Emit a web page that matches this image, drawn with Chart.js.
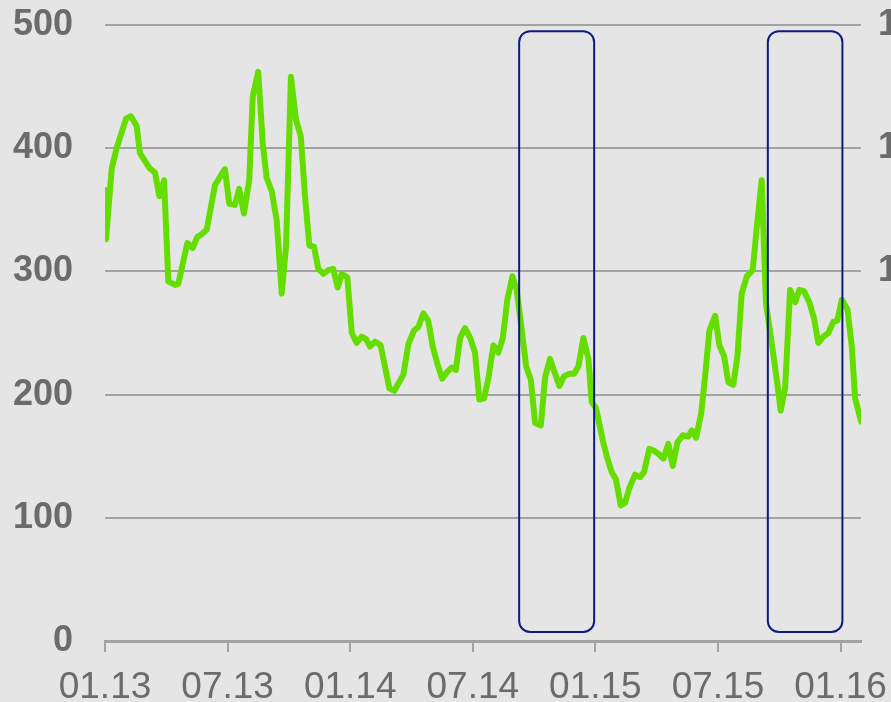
<!DOCTYPE html>
<html>
<head>
<meta charset="utf-8">
<script src="https://cdn.jsdelivr.net/npm/chart.js@4.4.0/dist/chart.umd.min.js"></script>
<style>
  html, body { margin: 0; padding: 0; background: #e5e5e5; overflow: hidden; }
  #wrap { width: 891px; height: 702px; }
</style>
</head>
<body>
<div id="wrap"><canvas id="chart" width="891" height="702"></canvas></div>
<script>
// months since 01.13 (weekly series)
const months = [
    0.00, 0.05, 0.33, 0.57, 1.03, 1.26, 1.55, 1.71, 2.17, 2.45, 2.66, 2.89, 3.10, 3.43, 3.59,
    4.03, 4.29, 4.52, 4.73, 4.98, 5.38, 5.87, 6.08, 6.36, 6.57, 6.80, 7.06, 7.23, 7.50, 7.72,
    7.91, 8.16, 8.40, 8.65, 8.86, 9.10, 9.35, 9.58, 9.79, 10.00, 10.23, 10.44, 10.69, 10.93, 11.17,
    11.39, 11.59, 11.86, 12.08, 12.32, 12.56, 12.78, 12.97, 13.22, 13.49, 13.92, 14.16, 14.36, 14.60, 14.85,
    15.12, 15.34, 15.58, 15.82, 16.04, 16.27, 16.50, 16.73, 16.97, 17.17, 17.38, 17.62, 17.87, 18.11, 18.32,
    18.55, 18.76, 19.01, 19.25, 19.47, 19.69, 19.94, 20.15, 20.40, 20.61, 20.84, 21.05, 21.33, 21.54, 21.78,
    22.03, 22.24, 22.47, 22.73, 22.96, 23.17, 23.41, 23.66, 23.82, 24.03, 24.36, 24.59, 24.80, 25.01, 25.24,
    25.45, 25.66, 25.94, 26.19, 26.38, 26.64, 26.92, 27.08, 27.33, 27.57, 27.79, 28.01, 28.28, 28.55, 28.72,
    28.93, 29.18, 29.37, 29.58, 29.86, 30.07, 30.30, 30.51, 30.75, 30.95, 31.16, 31.41, 31.70, 31.90, 32.14,
    32.35, 32.63, 32.88, 33.07, 33.29, 33.53, 33.78, 33.98, 34.21, 34.47, 34.70, 34.91, 35.16, 35.40, 35.64,
    35.84, 36.06, 36.34, 36.55, 36.71, 37.01
];
const values = [
    366, 326, 384, 400, 424, 426, 418, 396, 384, 380, 361, 374, 292, 289, 290,
    323, 319, 328, 330, 334, 370, 383, 355, 354, 367, 347, 374, 442, 462, 404,
    376, 365, 342, 282, 320, 458, 423, 410, 361, 321, 320, 302, 298, 301, 302,
    287, 298, 295, 250, 242, 247, 245, 239, 243, 240, 205, 203, 209, 216, 241,
    252, 255, 266, 260, 239, 225, 213, 218, 222, 220, 246, 254, 246, 234, 196,
    197, 213, 240, 234, 246, 277, 296, 285, 252, 223, 212, 177, 175, 214, 229,
    217, 207, 215, 217, 217, 223, 246, 229, 194, 189, 163, 148, 137, 131, 110,
    112, 124, 135, 133, 137, 156, 154, 152, 148, 160, 142, 161, 167, 166, 171,
    165, 185, 215, 252, 264, 240, 231, 210, 208, 231, 282, 296, 301, 336, 374,
    274, 242, 212, 187, 206, 285, 275, 285, 284, 275, 262, 242, 247, 250, 259,
    260, 277, 269, 239, 197, 178
];

const xTickLabels = ['01.13', '07.13', '01.14', '07.14', '01.15', '07.15', '01.16'];
const xTickMonths = [0, 6, 12, 18, 24, 30, 36];
const yTicks = [0, 100, 200, 300, 400, 500];
// right axis is cut off by the picture edge, only leading digits show
const rightTickLabels = { 500: '150', 400: '125', 300: '100' };

// highlighted periods: [fromMonth, toMonth]
const highlightPeriods = [[20.27, 23.94], [32.44, 36.09]];
const highlightRange = [7.3, 495];

const bg = '#e5e5e5';
const grey = '#a2a2a2';
const labelGrey = '#6b6b6b';
const green = '#66dd00';
const navy = '#0d1b80';

const boxesPlugin = {
    id: 'boxes',
    afterDatasetsDraw(chart) {
        const { ctx, scales: { x, y } } = chart;
        ctx.save();
        ctx.strokeStyle = navy;
        ctx.lineWidth = 2;
        highlightPeriods.forEach(([a, b]) => {
            const left = x.getPixelForValue(a), right = x.getPixelForValue(b);
            const top = y.getPixelForValue(highlightRange[1]), bottom = y.getPixelForValue(highlightRange[0]);
            ctx.beginPath();
            ctx.roundRect(left, top, right - left, bottom - top, 11);
            ctx.stroke();
        });
        ctx.restore();
    }
};

const bgPlugin = {
    id: 'bg',
    beforeDraw(chart) {
        const ctx = chart.ctx;
        ctx.save();
        ctx.fillStyle = bg;
        ctx.fillRect(0, 0, chart.width, chart.height);
        ctx.restore();
    }
};

// keep the tick label padding from pushing the plot area around
const fitY = w => s => { s.width = w; s.paddingTop = 25; s.paddingBottom = 0; };

new Chart(document.getElementById('chart'), {
    type: 'line',
    data: {
        datasets: [{
            data: months.map((m, i) => ({ x: m, y: values[i] })),
            borderColor: green,
            borderWidth: 6,
            borderJoinStyle: 'round',
            borderCapStyle: 'round',
            pointRadius: 0,
            tension: 0,
            fill: false
        }]
    },
    options: {
        responsive: false,
        animation: false,
        layout: { padding: 0 },
        plugins: { legend: { display: false }, tooltip: { enabled: false } },
        scales: {
            x: {
                type: 'linear',
                min: 0,
                max: 37,
                afterBuildTicks: s => { s.ticks = xTickMonths.map(v => ({ value: v })); },
                afterFit: s => { s.height = 61; s.paddingLeft = 0; s.paddingRight = 0; },
                ticks: {
                    callback: v => xTickLabels[xTickMonths.indexOf(v)],
                    autoSkip: false,
                    maxRotation: 0,
                    padding: 14,
                    color: labelGrey,
                    font: { family: 'Liberation Sans, Arial, sans-serif', size: 37 }
                },
                grid: { drawOnChartArea: false, drawTicks: true, tickLength: 11, color: grey, lineWidth: 2 },
                border: { color: grey, width: 3 }
            },
            y: {
                position: 'left',
                min: 0,
                max: 500,
                afterBuildTicks: s => { s.ticks = yTicks.map(v => ({ value: v })); },
                afterFit: fitY(105),
                ticks: {
                    padding: 32,
                    color: labelGrey,
                    font: { family: 'Liberation Sans, Arial, sans-serif', size: 36, weight: 'bold' }
                },
                grid: { drawTicks: false, color: ctx => ctx.tick.value === 0 ? 'rgba(0,0,0,0)' : grey, lineWidth: 2 },
                border: { display: false }
            },
            y2: {
                position: 'right',
                min: 0,
                max: 500,
                afterBuildTicks: s => { s.ticks = yTicks.map(v => ({ value: v })); },
                afterFit: fitY(30),
                ticks: {
                    padding: 17,
                    callback: v => rightTickLabels[v] || '',
                    color: labelGrey,
                    font: { family: 'Liberation Sans, Arial, sans-serif', size: 36, weight: 'bold' }
                },
                grid: { display: false, drawTicks: false },
                border: { display: false }
            }
        }
    },
    plugins: [bgPlugin, boxesPlugin]
});
</script>
</body>
</html>
